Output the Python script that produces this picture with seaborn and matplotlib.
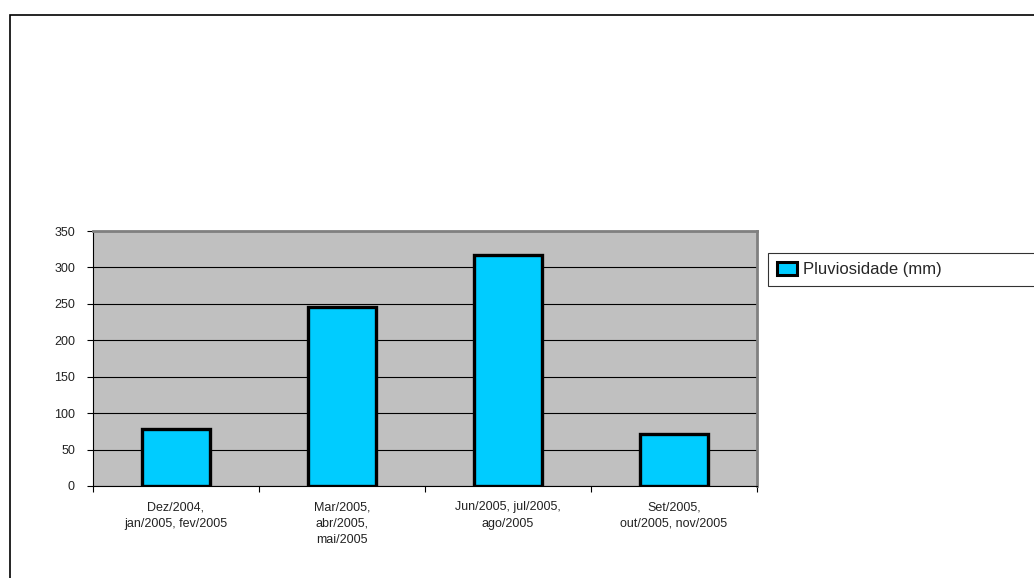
import matplotlib
matplotlib.use("Agg")
import matplotlib.pyplot as plt
import seaborn as sns
import pandas as pd
from matplotlib.patches import Rectangle, Patch

# Data
categories = [
    "Dez/2004,\njan/2005, fev/2005",
    "Mar/2005,\nabr/2005,\nmai/2005",
    "Jun/2005, jul/2005,\nago/2005",
    "Set/2005,\nout/2005, nov/2005",
]
rain_mm = [78, 246, 317, 71]
series_name = "Pluviosidade (mm)"
y_ticks = [0, 50, 100, 150, 200, 250, 300, 350]

df = pd.DataFrame({"periodo": categories, "chuva": rain_mm})

sns.set_style("white")
plt.rcParams["font.family"] = ["Liberation Sans", "DejaVu Sans"]

W, H = 1034, 578
fig = plt.figure(figsize=(W / 100, H / 100), dpi=100)
ax = fig.add_axes([93 / W, 1 - 486 / H, (757 - 93) / W, (486 - 231) / H])

sns.barplot(data=df, x="periodo", y="chuva", ax=ax, color="#00CCFF",
            width=0.41, edgecolor="black", linewidth=2.4, saturation=1, zorder=3)

ax.set_facecolor("#C0C0C0")
ax.set_ylim(0, 350)
ax.set_xlim(-0.5, len(categories) - 0.5)
ax.set_yticks(y_ticks)
ax.yaxis.grid(True, color="black", linewidth=0.8)
ax.set_axisbelow(True)
ax.set_xlabel("")
ax.set_ylabel("")

# category ticks sit on the boundaries, labels centred under the bars
ax.set_xticks([i - 0.5 for i in range(len(categories) + 1)], minor=False)
ax.set_xticklabels([])
ax.set_xticks(range(len(categories)), minor=True)
ax.set_xticklabels(categories, minor=True, fontsize=9, linespacing=1.5,
                   color="#222222")
ax.tick_params(axis="x", which="minor", length=0, pad=11)
ax.tick_params(axis="x", which="major", direction="out", length=4, width=0.8,
               color="black", bottom=True)
ax.tick_params(axis="y", direction="out", length=4, width=0.8, color="black",
               left=True, labelsize=9, pad=9, labelcolor="#222222")

for side in ["top", "right"]:
    ax.spines[side].set_color("#808080")
    ax.spines[side].set_linewidth(2)
for side in ["left", "bottom"]:
    ax.spines[side].set_color("black")
    ax.spines[side].set_linewidth(0.8)

# legend box at right, stretched so it runs off the right edge
handle = Patch(facecolor="#00CCFF", edgecolor="black", linewidth=2.2)
leg = fig.legend([handle], [series_name], loc="upper left",
                 bbox_to_anchor=(768 / W, 1 - 253 / H, 0.3, 0), mode="expand",
                 frameon=True, fancybox=False, edgecolor="black", fontsize=12,
                 handlelength=1.2, handleheight=0.8, handletextpad=0.35,
                 borderpad=0.55, borderaxespad=0)
leg.get_frame().set_linewidth(0.8)

# outer chart-area frame (runs off the right and bottom edges)
fig.patches.append(Rectangle((10 / W, -0.05), 1.1, 1 - 15 / H + 0.05,
                             transform=fig.transFigure, fill=False,
                             edgecolor="black", linewidth=1.2))

fig.savefig("out.png", dpi=100)
